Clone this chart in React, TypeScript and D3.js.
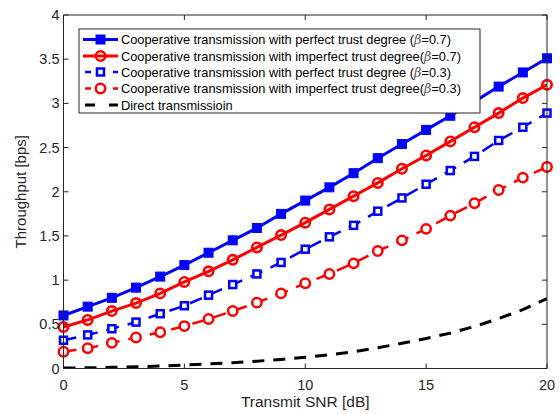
import React from "react";
import * as d3 from "d3";

const snr = d3.range(0, 21);
const perfect07 = [0.6, 0.7, 0.8, 0.915, 1.04, 1.17, 1.31, 1.45, 1.59, 1.75, 1.9, 2.05, 2.21, 2.38, 2.54, 2.7, 2.86, 3.02, 3.19, 3.35, 3.51];
const imperfect07 = [0.47, 0.55, 0.65, 0.74, 0.85, 0.98, 1.1, 1.23, 1.37, 1.51, 1.65, 1.8, 1.95, 2.1, 2.26, 2.41, 2.57, 2.73, 2.89, 3.06, 3.21];
const perfect03 = [0.32, 0.38, 0.45, 0.525, 0.62, 0.71, 0.83, 0.95, 1.07, 1.2, 1.35, 1.49, 1.62, 1.78, 1.93, 2.085, 2.24, 2.4, 2.58, 2.73, 2.89];
const imperfect03 = [0.19, 0.23, 0.29, 0.35, 0.41, 0.48, 0.56, 0.65, 0.745, 0.85, 0.965, 1.07, 1.19, 1.33, 1.45, 1.58, 1.73, 1.87, 2.02, 2.16, 2.28];
const direct = [0.005, 0.008, 0.013, 0.02, 0.028, 0.04, 0.052, 0.066, 0.083, 0.103, 0.127, 0.155, 0.19, 0.235, 0.285, 0.34, 0.4, 0.475, 0.565, 0.665, 0.79];

const xTicks = [0, 5, 10, 15, 20];
const yTicks = [0, 0.5, 1, 1.5, 2, 2.5, 3, 3.5, 4];
const legendLabels = [
  ["Cooperative transmission with perfect trust degree (", "=0.7)"],
  ["Cooperative transmission with imperfect trust degree(", "=0.7)"],
  ["Cooperative transmission with perfect trust degree (", "=0.3)"],
  ["Cooperative transmission with imperfect trust degree(", "=0.3)"],
  ["Direct transmissioin", ""],
];

const W = 560, H = 414;
const left = 63.5, right = 547, top = 15, bottom = 368.5;
const x = d3.scaleLinear().domain([0, 20]).range([left, right]);
const y = d3.scaleLinear().domain([0, 4]).range([bottom, top]);

type S = { data: number[]; color: string; dash?: string; marker: "sqFill" | "circ" | "sqOpen" | "circOpen" | "none"; width: number };
const series: S[] = [
  { data: perfect07, color: "#0000ff", marker: "sqFill", width: 3 },
  { data: imperfect07, color: "#ff0000", marker: "circ", width: 3 },
  { data: perfect03, color: "#0000ff", dash: "13,9", marker: "sqOpen", width: 2.5 },
  { data: imperfect03, color: "#ff0000", dash: "13,9", marker: "circOpen", width: 2.5 },
  { data: direct, color: "#000000", dash: "12,9", marker: "none", width: 3 },
];

function Marker({ kind, cx, cy, color }: { kind: string; cx: number; cy: number; color: string }) {
  if (kind === "sqFill") return <rect x={cx - 4.5} y={cy - 4.5} width={9} height={9} fill={color} stroke={color} strokeWidth={1} />;
  if (kind === "sqOpen") return <rect x={cx - 3.5} y={cy - 3.5} width={7} height={7} fill="white" stroke={color} strokeWidth={2.5} />;
  if (kind === "circ") return <circle cx={cx} cy={cy} r={4.7} fill="none" stroke={color} strokeWidth={2.6} />;
  if (kind === "circOpen") return <circle cx={cx} cy={cy} r={4.7} fill="white" stroke={color} strokeWidth={2.5} />;
  return null;
}

export default function App() {
  const line = d3.line<number>().x((_, i) => x(snr[i])).y((d) => y(d));
  const font = "'Liberation Sans', Arial, sans-serif";
  const tc = "#262626";
  const lgX = 79, lgY = 29, lgW = 401, lgH = 84;
  const rowY = [39.5, 56, 72, 88.5, 105];
  return (
    <svg width={W} height={H} style={{ position: "absolute", left: 0, top: 0, background: "white" }} fontFamily={font}>
      <rect x={0} y={0} width={W} height={H} fill="white" />
      <defs>
        <clipPath id="pc"><rect x={left} y={top} width={right - left} height={bottom - top} /></clipPath>
      </defs>
      <g clipPath="url(#pc)">
        {series.map((s, k) => (
          <path key={k} d={line(s.data) || ""} fill="none" stroke={s.color} strokeWidth={s.width} strokeDasharray={s.dash} />
        ))}
      </g>
      {series.map((s, k) => (
        <g key={"m" + k}>
          {s.data.map((v, i) => (
            <Marker key={i} kind={s.marker} cx={x(snr[i])} cy={y(v)} color={s.color} />
          ))}
        </g>
      ))}
      {/* frame */}
      <rect x={left} y={top} width={right - left} height={bottom - top} fill="none" stroke={tc} strokeWidth={1} />
      {xTicks.map((t) => (
        <g key={"xt" + t}>
          <line x1={x(t)} x2={x(t)} y1={bottom} y2={bottom - 5} stroke={tc} />
          <line x1={x(t)} x2={x(t)} y1={top} y2={top + 5} stroke={tc} />
          <text x={x(t)} y={bottom + 21} textAnchor="middle" fontSize={14.5} fill={tc}>{t}</text>
        </g>
      ))}
      {yTicks.map((t) => (
        <g key={"yt" + t}>
          <line x1={left} x2={left + 5} y1={y(t)} y2={y(t)} stroke={tc} />
          <line x1={right} x2={right - 5} y1={y(t)} y2={y(t)} stroke={tc} />
          <text x={left - 4} y={y(t) + 5} textAnchor="end" fontSize={14.5} fill={tc}>{t}</text>
        </g>
      ))}
      <text x={(left + right) / 2} y={407} textAnchor="middle" fontSize={15.5} fill={tc}>Transmit SNR [dB]</text>
      <text transform={`translate(25.5,${(top + bottom) / 2}) rotate(-90)`} textAnchor="middle" fontSize={15} fill={tc}>Throughput [bps]</text>
      {/* legend */}
      <rect x={lgX} y={lgY} width={lgW} height={lgH} fill="white" stroke={tc} strokeWidth={1} />
      {series.map((s, k) => (
        <g key={"lg" + k}>
          <line x1={83} x2={118} y1={rowY[k]} y2={rowY[k]} stroke={s.color} strokeWidth={s.width}
            strokeDasharray={s.marker === "none" ? "10,14" : s.dash ? "6,8" : undefined} strokeDashoffset={s.marker === "none" ? -2 : s.dash ? -2 : 0} />
          <Marker kind={s.marker} cx={100.5} cy={rowY[k]} color={s.color} />
          <text x={121} y={rowY[k] + 4.5} fontSize={12.8} fill="#000">
            {legendLabels[k][0]}
            {legendLabels[k][1] && <tspan fontStyle="italic" fontFamily="'DejaVu Serif', serif" fill="#555">β</tspan>}
            {legendLabels[k][1]}
          </text>
        </g>
      ))}
    </svg>
  );
}
